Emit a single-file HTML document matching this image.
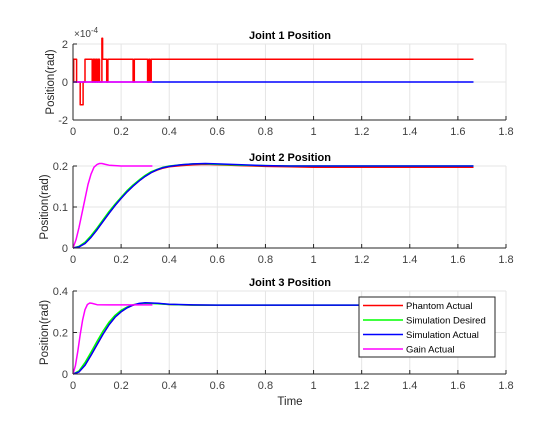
<!DOCTYPE html>
<html><head><meta charset="utf-8"><style>
body{margin:0;background:#fff;font-family:"Liberation Sans",sans-serif}
svg text{font-family:"Liberation Sans",sans-serif}
</style></head><body>
<svg id="c" width="560" height="420" xmlns="http://www.w3.org/2000/svg"></svg>
<script>
// ---- data ----
const p1RedT=[0,0.003,0.003,0.015,0.015,0.03,0.03,0.042,0.042,0.05,0.05,0.08,0.08,0.084,0.084,0.09,0.09,0.094,0.094,0.1,0.1,0.104,0.104,0.11,0.11,0.12,0.12,0.123,0.123,0.14,0.14,0.145,0.145,0.25,0.25,0.255,0.255,0.31,0.31,0.315,0.315,0.32,0.32,0.325,0.325,1.665];
const p1RedV=[0,0,1.2,1.2,0,0,-1.2,-1.2,0,0,1.2,1.2,0,0,1.2,1.2,0,0,1.2,1.2,0,0,1.2,1.2,0,0,2.3,2.3,1.2,1.2,0,0,1.2,1.2,0,0,1.2,1.2,0,0,1.2,1.2,0,0,1.2,1.2];
const p1BlueT=[0,1.665],p1BlueV=[0,0];
const p1MagT=[0,0.33],p1MagV=[0,0];
const p2T=[0,0.025,0.05,0.075,0.1,0.125,0.15,0.175,0.2,0.225,0.25,0.275,0.3,0.325,0.35,0.375,0.4,0.45,0.5,0.55,0.6,0.7,0.8,0.9,1.0,1.2,1.4,1.665];
const p2Green=[0,0.004,0.014,0.03,0.049,0.069,0.089,0.107,0.124,0.14,0.154,0.166,0.177,0.186,0.192,0.197,0.2,0.203,0.205,0.205,0.204,0.202,0.201,0.2,0.2,0.2,0.2,0.2];
const p2Blue=[0,0.003,0.011,0.026,0.045,0.065,0.085,0.104,0.121,0.137,0.151,0.164,0.175,0.184,0.191,0.196,0.199,0.203,0.205,0.206,0.205,0.203,0.201,0.2,0.2,0.2,0.2,0.2];
const p2Red=[0,0.003,0.011,0.026,0.045,0.065,0.085,0.104,0.121,0.137,0.151,0.164,0.175,0.184,0.19,0.195,0.198,0.201,0.203,0.204,0.203,0.201,0.199,0.198,0.197,0.197,0.197,0.197];
const p2GainT=[0,0.0125,0.025,0.0375,0.05,0.0625,0.075,0.0875,0.1,0.11,0.12,0.135,0.15,0.2,0.33];
const p2Gain=[0,0.02,0.05,0.085,0.12,0.155,0.18,0.197,0.204,0.206,0.206,0.204,0.202,0.2,0.2];
const p3T=[0,0.025,0.05,0.075,0.1,0.125,0.15,0.175,0.2,0.225,0.25,0.275,0.3,0.35,0.4,0.5,0.6,0.8,1.0,1.665];
const p3Green=[0,0.015,0.055,0.105,0.158,0.207,0.25,0.283,0.307,0.323,0.334,0.339,0.341,0.339,0.335,0.332,0.332,0.332,0.332,0.332];
const p3Blue=[0,0.01,0.042,0.09,0.142,0.193,0.238,0.274,0.3,0.319,0.332,0.34,0.343,0.341,0.336,0.333,0.332,0.332,0.332,0.332];
const p3Red=[0,0.01,0.042,0.09,0.142,0.193,0.238,0.274,0.3,0.319,0.332,0.339,0.342,0.34,0.335,0.332,0.331,0.331,0.331,0.331];
const p3GainT=[0,0.01,0.02,0.03,0.04,0.05,0.06,0.07,0.08,0.1,0.15,0.33];
const p3Gain=[0,0.04,0.11,0.19,0.26,0.31,0.335,0.342,0.34,0.334,0.333,0.333];
const xTicks=[0,0.2,0.4,0.6,0.8,1,1.2,1.4,1.6,1.8];
const y1Ticks=[-2,0,2],y2Ticks=[0,0.1,0.2],y3Ticks=[0,0.2,0.4];
const legendLabels=["Phantom Actual","Simulation Desired","Simulation Actual","Gain Actual"];
const legendColors=["#ff0000","#00ff00","#0000ff","#ff00ff"];
// ---- drawing ----
const svg=document.getElementById('c');const NS='http://www.w3.org/2000/svg';
function mk(t,a,p){const e=document.createElementNS(NS,t);for(const k in a)e.setAttribute(k,a[k]);(p||svg).appendChild(e);return e;}
const X0=73,X1=506;const sx=v=>X0+(v/1.8)*(X1-X0);
function panel(idx,top,bot,ymin,ymax,yt,title,series){
  const g=mk('g',{});
  
  
  const sy=v=>bot-(v-ymin)/(ymax-ymin)*(bot-top);
  xTicks.forEach(t=>{const l=mk('line',{x1:sx(t),x2:sx(t),y1:top,y2:bot,stroke:'#e5e5e5','stroke-width':1},g);});
  yt.forEach(t=>{const l=mk('line',{x1:X0,x2:X1,y1:sy(t),y2:sy(t),stroke:'#e5e5e5','stroke-width':1},g);});
  series.forEach(s=>{const pts=s.t.map((t,i)=>sx(t).toFixed(1)+','+sy(s.v[i]).toFixed(1)).join(' ');const pl=mk('polyline',{points:pts,fill:'none',stroke:s.c,'stroke-width':1.5,'stroke-linejoin':'round'},g);});
  const xa=mk('line',{x1:X0,x2:X1,y1:bot,y2:bot,stroke:'#262626'},g);
  const ya=mk('line',{x1:X0,x2:X0,y1:top,y2:bot,stroke:'#262626'},g);
  xTicks.forEach(t=>{mk('line',{x1:sx(t),x2:sx(t),y1:bot,y2:bot-4,stroke:'#262626'},g);const tx=mk('text',{x:sx(t),y:bot+15,'font-size':11,'text-anchor':'middle',fill:'#404040'},g);tx.textContent=String(t);});
  yt.forEach(t=>{mk('line',{x1:X0,x2:X0+4,y1:sy(t),y2:sy(t),stroke:'#262626'},g);const tx=mk('text',{x:X0-5,y:sy(t)+4,'font-size':11,'text-anchor':'end',fill:'#404040'},g);tx.textContent=String(t);});
  const ti=mk('text',{x:290,y:top-5,'font-size':11,'font-weight':'bold','text-anchor':'middle',fill:'#000'},g);ti.textContent=title;
  const cy=(top+bot)/2;const yl=mk('text',{x:0,y:0,'font-size':11.5,'text-anchor':'middle',fill:'#262626',transform:'translate('+(idx==1?54:48)+','+cy+') rotate(-90)'},g);yl.textContent='Position(rad)';
  return g;
}
panel(1,44,120,-2,2,y1Ticks,'Joint 1 Position',[{t:p1RedT,v:p1RedV,c:'#ff0000',n:'phantom-actual-line'},{t:p1BlueT,v:p1BlueV,c:'#0000ff',n:'simulation-actual-line'},{t:p1MagT,v:p1MagV,c:'#ff00ff',n:'gain-actual-line'}]);
panel(2,166,248,0,0.2,y2Ticks,'Joint 2 Position',[{t:p2T,v:p2Red,c:'#ff0000',n:'phantom-actual-line'},{t:p2T,v:p2Green,c:'#00ff00',n:'simulation-desired-line'},{t:p2T,v:p2Blue,c:'#0000ff',n:'simulation-actual-line'},{t:p2GainT,v:p2Gain,c:'#ff00ff',n:'gain-actual-line'}]);
panel(3,291,374,0,0.4,y3Ticks,'Joint 3 Position',[{t:p3T,v:p3Red,c:'#ff0000',n:'phantom-actual-line'},{t:p3T,v:p3Green,c:'#00ff00',n:'simulation-desired-line'},{t:p3T,v:p3Blue,c:'#0000ff',n:'simulation-actual-line'},{t:p3GainT,v:p3Gain,c:'#ff00ff',n:'gain-actual-line'}]);
const ex=mk('text',{x:74,y:37,'font-size':10,fill:'#404040'});ex.innerHTML='×10<tspan dy="-4" font-size="8">-4</tspan>';
const xt=mk('text',{x:290,y:405,'font-size':11.5,'text-anchor':'middle',fill:'#262626'});xt.textContent='Time';
const lg=mk('g',{});
mk('rect',{x:359,y:297,width:136,height:60,fill:'#fff',stroke:'#262626'},lg);
legendLabels.forEach((l,i)=>{const y=305.5+i*14.5;mk('line',{x1:363,x2:403,y1:y,y2:y,stroke:legendColors[i],'stroke-width':1.5},lg);const t=mk('text',{x:406,y:y+3.5,'font-size':9.5,fill:'#000'},lg);t.textContent=l;});
</script>
</body></html>
